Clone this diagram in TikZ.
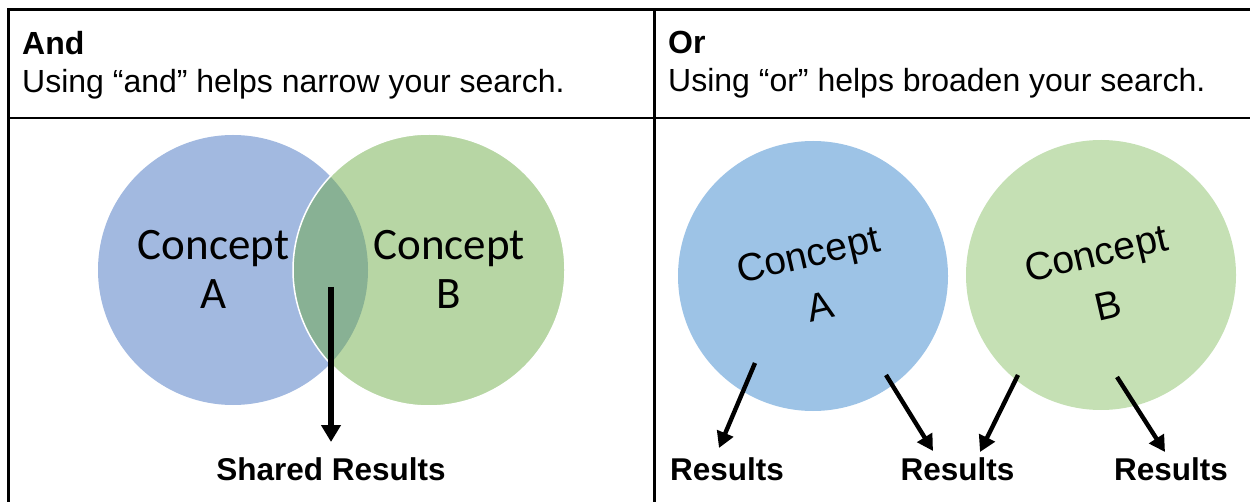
\documentclass[tikz,border=0pt]{standalone}
\usepackage{fontspec}
\setmainfont{Liberation Sans}
\newfontfamily\calibrifont{Carlito}
\usetikzlibrary{arrows.meta}
\definecolor{vblue}{HTML}{A2B9E0}
\definecolor{vgreen}{HTML}{B7D6A4}
\definecolor{vinter}{HTML}{88B194}
\definecolor{oblue}{HTML}{9DC3E6}
\definecolor{ogreen}{HTML}{C5E0B4}
\tikzset{
  rule/.style={line width=2.8pt, black},
  hdr/.style={anchor=north west, inner sep=0pt, align=left, font=\fontsize{32}{37.5}\selectfont},
  vlabel/.style={inner sep=0pt, align=center, font=\calibrifont\fontsize{45}{49}\selectfont},
  olabel/.style={inner sep=0pt, align=center, rotate=13, font=\fontsize{39}{54}\selectfont},
  reslabel/.style={anchor=base, inner sep=0pt, font=\bfseries\fontsize{31.5}{38}\selectfont},
  bigarrow/.style={-{Triangle[width=19pt,length=17pt]}, line width=5.2pt},
  smallarrow/.style={-{Triangle[width=17pt,length=16pt]}, line width=4.4pt},
  circ/.style={circle, inner sep=0pt, minimum size=270pt},
}
\begin{document}
\begin{tikzpicture}[x=1pt,y=-1pt]
\useasboundingbox (0,0) rectangle (1250,502);
% table rules
\draw[rule] (7.3,9.5) -- (1250,9.5);
\draw[rule] (7.3,118) -- (1250,118);
\draw[rule] (8.7,8.1) -- (8.7,502);
\draw[rule] (654.7,8.1) -- (654.7,502);
% headers
\node[hdr] (hand) at (22,31.2) {\textbf{And}\\Using “and” helps narrow your search.};
\node[hdr] (hor) at (668,31.2) {\textbf{Or}\\Using “or” helps broaden your search.};
% Venn diagram
\fill[vblue] (233,270) circle[radius=135pt];
\fill[vgreen] (429,270) circle[radius=136pt];
\begin{scope}
  \clip (233,270) circle[radius=135pt];
  \fill[vinter] (429,270) circle[radius=136pt];
\end{scope}
\draw[white, line width=1.5pt] (429,270) circle[radius=136pt];
\node[vlabel] (la) at (213.5,269) {Concept\\A};
\node[vlabel] (lb) at (449,269) {Concept\\B};
\coordinate (sharedstart) at (331,287);
\coordinate (sharedend) at (331,442);
\draw[bigarrow] (sharedstart) -- (sharedend);
\node[reslabel] (shared) at (331,480) {Shared Results};
% Or circles
\node[circ, fill=oblue] (ca) at (813,276) {};
\node[circ, fill=ogreen] (cb) at (1101,275) {};
\node[olabel] (ta) at (814,280) {Concept\\A};
\node[olabel] (tb) at (1102,279) {Concept\\B};
\coordinate (a1s) at (755,363);
\coordinate (a1e) at (719,448);
\coordinate (a2s) at (886,375);
\coordinate (a2e) at (933,451);
\coordinate (a3s) at (1018,375);
\coordinate (a3e) at (980,452);
\coordinate (a4s) at (1117,377);
\coordinate (a4e) at (1165,452);
\draw[smallarrow] (a1s) -- (a1e);
\draw[smallarrow] (a2s) -- (a2e);
\draw[smallarrow] (a3s) -- (a3e);
\draw[smallarrow] (a4s) -- (a4e);
\node[reslabel] (r1) at (727,480) {Results};
\node[reslabel] (r2) at (957.5,480) {Results};
\node[reslabel] (r3) at (1171,480) {Results};
\end{tikzpicture}
\end{document}
